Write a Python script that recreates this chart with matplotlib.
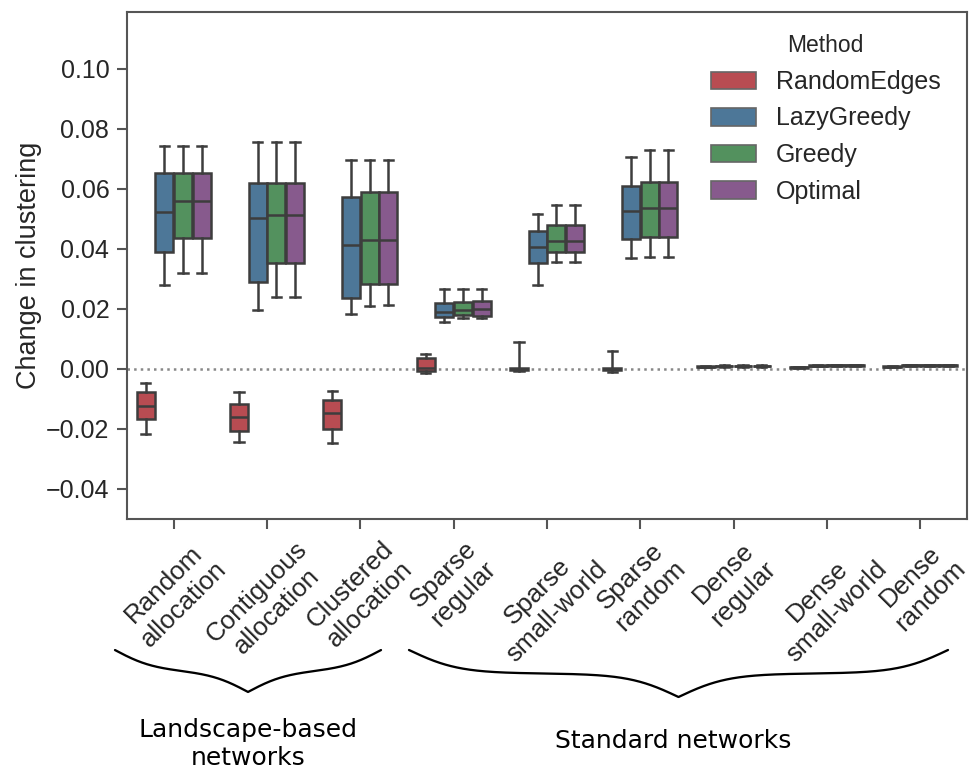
import numpy as np
import matplotlib
matplotlib.use("Agg")
import matplotlib.pyplot as plt
from matplotlib.patches import Patch

# ---------------- data ----------------
categories = ["Random\nallocation", "Contiguous\nallocation", "Clustered\nallocation",
              "Sparse\nregular", "Sparse\nsmall-world", "Sparse\nrandom",
              "Dense\nregular", "Dense\nsmall-world", "Dense\nrandom"]
methods = ["RandomEdges", "LazyGreedy", "Greedy", "Optimal"]

# each row: [lower whisker, Q1, median, Q3, upper whisker]
random_edges = [
    [-0.0217, -0.0168, -0.0124, -0.0077, -0.0046],
    [-0.0244, -0.0207, -0.0159, -0.0116, -0.0076],
    [-0.0248, -0.0201, -0.0146, -0.0103, -0.0072],
    [-0.0012, -0.0007, 0.0002, 0.0036, 0.0051],
    [-0.0008, -0.0002, 0.0000, 0.0002, 0.0089],
    [-0.0009, -0.0003, 0.0000, 0.0002, 0.0060],
    [0.0005, 0.0006, 0.0007, 0.0009, 0.0010],
    [0.0003, 0.0004, 0.0005, 0.0007, 0.0008],
    [0.0005, 0.0006, 0.0007, 0.0009, 0.0010],
]
lazy_greedy = [
    [0.0280, 0.0391, 0.0522, 0.0652, 0.0743],
    [0.0196, 0.0289, 0.0502, 0.0619, 0.0757],
    [0.0184, 0.0238, 0.0412, 0.0572, 0.0697],
    [0.0156, 0.0174, 0.0190, 0.0219, 0.0267],
    [0.0280, 0.0352, 0.0408, 0.0460, 0.0516],
    [0.0369, 0.0433, 0.0528, 0.0611, 0.0708],
    [0.0008, 0.0009, 0.0010, 0.0011, 0.0012],
    [0.0009, 0.0010, 0.0011, 0.0012, 0.0013],
    [0.0010, 0.0011, 0.0012, 0.0013, 0.0014],
]
greedy = [
    [0.0319, 0.0438, 0.0561, 0.0652, 0.0743],
    [0.0241, 0.0352, 0.0512, 0.0619, 0.0757],
    [0.0211, 0.0283, 0.0429, 0.0591, 0.0697],
    [0.0169, 0.0180, 0.0195, 0.0223, 0.0267],
    [0.0358, 0.0391, 0.0428, 0.0479, 0.0546],
    [0.0374, 0.0441, 0.0538, 0.0622, 0.0730],
    [0.0008, 0.0009, 0.0010, 0.0011, 0.0012],
    [0.0010, 0.0011, 0.0012, 0.0013, 0.0014],
    [0.0010, 0.0011, 0.0012, 0.0013, 0.0014],
]
optimal = [
    [0.0319, 0.0438, 0.0561, 0.0652, 0.0743],
    [0.0241, 0.0352, 0.0512, 0.0619, 0.0757],
    [0.0214, 0.0283, 0.0429, 0.0591, 0.0697],
    [0.0169, 0.0178, 0.0199, 0.0227, 0.0267],
    [0.0358, 0.0391, 0.0428, 0.0479, 0.0546],
    [0.0374, 0.0441, 0.0538, 0.0622, 0.0730],
    [0.0008, 0.0009, 0.0010, 0.0011, 0.0012],
    [0.0010, 0.0011, 0.0012, 0.0013, 0.0014],
    [0.0010, 0.0011, 0.0012, 0.0013, 0.0014],
]
method_data = [random_edges, lazy_greedy, greedy, optimal]
colors = ["#b84c52", "#4d7798", "#53915e", "#875a8d"]
group_labels = ["Landscape-based\nnetworks", "Standard networks"]

# ---------------- figure ----------------
W, H, DPI = 974, 769, 150
plt.rcParams["font.family"] = ["Liberation Sans", "DejaVu Sans"]
plt.rcParams["font.size"] = 12
fig = plt.figure(figsize=(W / DPI, H / DPI), dpi=DPI)
ax = fig.add_axes([127 / W, 1 - 519 / H, (967 - 127) / W, (519 - 12) / H])

dark = "#3d3d3d"
hue_w = 0.2
for m, (data, col) in enumerate(zip(method_data, colors)):
    stats = []
    pos = []
    for i, (lo, q1, med, q3, hi) in enumerate(data):
        stats.append(dict(whislo=lo, q1=q1, med=med, q3=q3, whishi=hi, fliers=[]))
        pos.append(i + (m - 1.5) * hue_w)
    ax.bxp(stats, positions=pos, widths=hue_w * 0.98, patch_artist=True,
           showfliers=False, capwidths=hue_w * 0.5,
           boxprops=dict(facecolor=col, edgecolor=dark, linewidth=1.2),
           medianprops=dict(color=dark, linewidth=1.2),
           whiskerprops=dict(color=dark, linewidth=1.2),
           capprops=dict(color=dark, linewidth=1.2),
           manage_ticks=False)

ax.axhline(0, ls=":", color="#888888", lw=1.2, zorder=0)
ax.set_xlim(-0.5, len(categories) - 0.5)
ax.set_ylim(-0.05, 0.119)
ax.set_yticks([-0.04, -0.02, 0.0, 0.02, 0.04, 0.06, 0.08, 0.10])
ax.set_yticklabels(["\u22120.04", "\u22120.02", "0.00", "0.02", "0.04", "0.06", "0.08", "0.10"])
ax.set_xticks(range(len(categories)))
ax.set_xticklabels(categories, rotation=45, ha="center", color=".15", fontsize=12.5)
ax.set_ylabel("Change in clustering", color=".15", labelpad=2, fontsize=13)
for s in ax.spines.values():
    s.set_color("#555555")
    s.set_linewidth(1.0)
ax.tick_params(axis="both", colors="#555555", labelcolor=".15", length=5, width=1.0)

handles = [Patch(facecolor=c, edgecolor="#666666", linewidth=0.8, label=l)
           for c, l in zip(colors, methods)]
leg = ax.legend(handles=handles, title="Method", loc="upper right",
                frameon=False, bbox_to_anchor=(0.995, 1.0), fontsize=12,
                title_fontsize=11, labelcolor=".15", handlelength=1.8)
leg.get_title().set_color(".15")

# ---------------- braces and group labels (overlay in pixel coords) ----------------
ov = fig.add_axes([0, 0, 1, 1], zorder=-1)
ov.set_xlim(0, W)
ov.set_ylim(H, 0)
ov.axis("off")


def brace(x0, x1, ytop, depth, beta):
    n = 400
    xm = (x0 + x1) / 2.0
    t = np.linspace(0, xm - x0, n)
    half = (1 / (1 + np.exp(-beta * (t - t[0]))) +
            1 / (1 + np.exp(-beta * (t - t[-1]))))
    y_half = ytop + (half - 0.5) * depth
    xs = np.concatenate([x0 + t, x1 - t[::-1]])
    ys = np.concatenate([y_half, y_half[::-1]])
    ov.plot(xs, ys, color="black", lw=1.1, solid_capstyle="round")


brace(115, 381, 650, 42, 0.05)
brace(409, 948, 650, 47, 0.04)
ov.text(248, 744, group_labels[0], ha="center", va="center", fontsize=12,
        family="DejaVu Sans", color="black", linespacing=1.2)
ov.text(673, 741, group_labels[1], ha="center", va="center", fontsize=12,
        family="DejaVu Sans", color="black")

fig.savefig("out.png", dpi=DPI)
